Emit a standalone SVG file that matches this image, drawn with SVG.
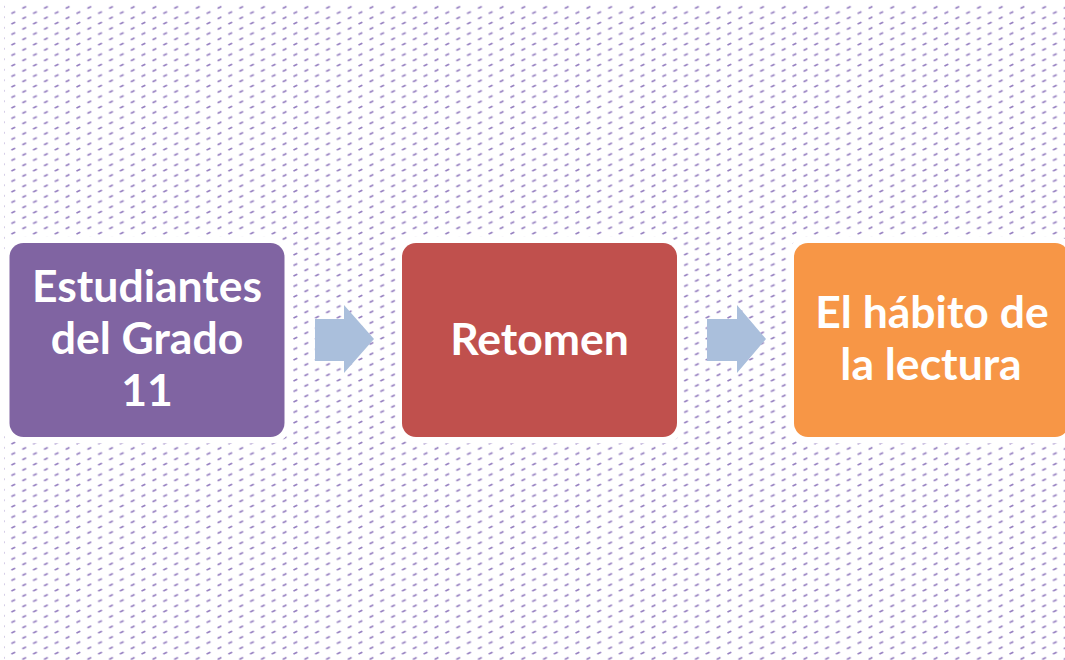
<svg xmlns="http://www.w3.org/2000/svg" width="1065" height="660" viewBox="0 0 1065 660">
  <defs>
    <pattern id="dots" x="3" y="2" width="21.7" height="10.5" patternUnits="userSpaceOnUse">
      <line x1="9" y1="11.2" x2="11.5" y2="10" class="dash"/>
      <line x1="9" y1="0.7" x2="11.5" y2="-0.5" class="dash"/>
      <line x1="20" y1="6" x2="22.5" y2="4.8" class="dash"/>
      <line x1="-1.7" y1="6" x2="0.8" y2="4.8" class="dash"/>
    </pattern>
    <style>
      .dash { stroke: #7A5EB0; stroke-width: 1.7; stroke-linecap: round; opacity: 0.8; }
      .box { stroke: #FFFFFF; stroke-width: 13; paint-order: stroke; }
      .lbl { font-family: "Lato", "Open Sans", "Liberation Sans", sans-serif; font-weight: bold; font-size: 44.5px; fill: #FFFFFF; text-anchor: middle; }
      .arrow { fill: #AABFDC; }
    </style>
  </defs>
  <rect x="0" y="0" width="1065" height="660" fill="#FFFFFF"/>
  <rect x="4" y="4" width="1061" height="656" fill="url(#dots)"/>

  <g id="connectors">
    <polygon class="arrow" points="315,319 344,319 344,305 374,339 344,373 344,361 315,361"/>
    <polygon class="arrow" points="707,319 737,319 737,305 766,339 737,373 737,361 707,361"/>
  </g>

  <g id="node-estudiantes">
    <rect class="box" x="9.5" y="243" width="275" height="194" rx="14" fill="#8064A2"/>
    <text class="lbl" x="147" y="302">Estudiantes</text>
    <text class="lbl" x="147" y="354">del Grado</text>
    <text class="lbl" x="147" y="406">11</text>
  </g>

  <g id="node-retomen">
    <rect class="box" x="402" y="243" width="275" height="194" rx="14" fill="#C0504D"/>
    <text class="lbl" x="539.5" y="355">Retomen</text>
  </g>

  <g id="node-habito">
    <rect class="box" x="794" y="243" width="275" height="194" rx="14" fill="#F79646"/>
    <text class="lbl" x="932" y="328">El hábito de</text>
    <text class="lbl" x="931" y="380">la lectura</text>
  </g>
</svg>
